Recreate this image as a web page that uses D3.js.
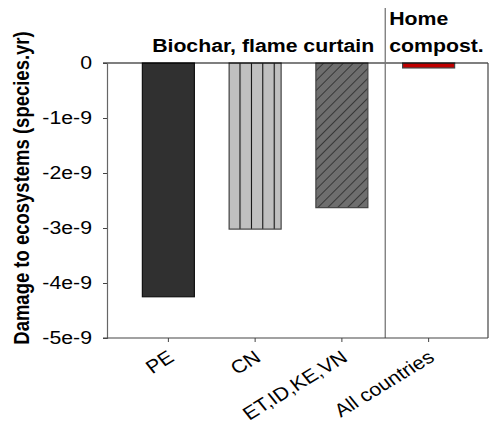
<!DOCTYPE html>
<html>
<head>
<meta charset="utf-8">
<script src="https://cdn.jsdelivr.net/npm/d3@7"></script>
<style>
  body { margin: 0; background: #fff; }
  text { font-family: Arial, "Liberation Sans", Helvetica, sans-serif; }
</style>
</head>
<body>
<div id="chart"></div>
<script>
// data
const categories = ['PE', 'CN', 'ET,ID,KE,VN', 'All countries'];
const damage = [-4.25e-9, -3.02e-9, -2.63e-9, -0.09e-9];
const yTicks = [0, -1e-9, -2e-9, -3e-9, -4e-9, -5e-9];
const yTickLabels = ['0', '-1e-9', '-2e-9', '-3e-9', '-4e-9', '-5e-9'];

const W = 490, H = 432;
const plotL = 107, plotR = 488, plotT = 63, plotB = 338;
// the original figure is a bit wider than tall, text is stretched horizontally
const fs = 18.5, sx = 1.15;

let svg = d3.select('#chart').append('svg')
    .attr('width', W).attr('height', H);

//====[ patterns ]====//
let defs = svg.append('defs');
let pv = defs.append('pattern').attr('id', 'vlines')
    .attr('patternUnits', 'userSpaceOnUse')
    .attr('width', 11.4).attr('height', 10).attr('x', 240 - 0.5);
pv.append('rect').attr('width', 11.4).attr('height', 10).attr('fill', '#c0c0c0');
pv.append('line').attr('x1', 0.5).attr('x2', 0.5).attr('y1', 0).attr('y2', 10)
    .attr('stroke', '#000').attr('stroke-width', 1);

let pd = defs.append('pattern').attr('id', 'diag')
    .attr('patternUnits', 'userSpaceOnUse')
    .attr('width', 7).attr('height', 7)
    .attr('patternTransform', 'rotate(45)');
pd.append('rect').attr('width', 7).attr('height', 7).attr('fill', '#6e6e6e');
pd.append('line').attr('x1', 0).attr('x2', 0).attr('y1', 0).attr('y2', 7)
    .attr('stroke', '#000').attr('stroke-width', 1);

const fills = ['#303030', 'url(#vlines)', 'url(#diag)', '#c00000'];

//====[ scales ]====//
let x = d3.scaleBand().domain(categories)
    .range([125, 472]).paddingInner(0.4).paddingOuter(0.2);
let y = d3.scaleLinear().domain([-5e-9, 0]).range([plotB, plotT]);

//====[ bars ]====//
svg.selectAll('rect.bar')
    .data(damage)
    .enter()
    .append('rect')
    .classed('bar', true)
    .attr('x', (d, i) => x(categories[i]) + (x.bandwidth() - 52) / 2)
    .attr('width', 52)
    .attr('y', y(0))
    .attr('height', d => y(d) - y(0))
    .attr('fill', (d, i) => fills[i])
    .attr('stroke', (d, i) => i === 0 ? '#111' : '#444')
    .attr('stroke-width', 1.2);

//====[ frame ]====//
svg.append('line').attr('x1', plotL - 4).attr('x2', plotR).attr('y1', plotT).attr('y2', plotT)
    .attr('stroke', '#000').attr('stroke-width', 1.2);
svg.append('line').attr('x1', plotR).attr('x2', plotR).attr('y1', plotT).attr('y2', plotB)
    .attr('stroke', '#444').attr('stroke-width', 1.2);

// separator between groups
let sepX = (x('ET,ID,KE,VN') + x('All countries') + x.bandwidth()) / 2;
svg.append('line').attr('x1', sepX).attr('x2', sepX).attr('y1', 8).attr('y2', plotB)
    .attr('stroke', '#777').attr('stroke-width', 1.3);

//====[ axes ]====//
let yAxis = svg.append('g')
    .attr('transform', 'translate(' + plotL + ',0)')
    .call(d3.axisLeft(y).tickValues(yTicks).tickSize(4).tickPadding(11)
        .tickFormat((d, i) => yTickLabels[i]));
yAxis.select('.domain').attr('stroke', '#666').attr('stroke-width', 1.2);
yAxis.selectAll('.tick line').attr('stroke', '#444');
yAxis.selectAll('text')
    .attr('font-size', fs).attr('fill', '#000')
    .attr('x', 0)
    .attr('transform', 'translate(-15,0) scale(' + sx + ',1)');

let xAxis = svg.append('g')
    .attr('transform', 'translate(0,' + plotB + ')')
    .call(d3.axisBottom(x).tickSize(4).tickSizeOuter(0));
xAxis.select('.domain').attr('d', 'M' + (plotL - 4) + ',0H' + plotR)
    .attr('stroke', '#444').attr('stroke-width', 1.2);
xAxis.selectAll('.tick line').attr('stroke', '#444');
xAxis.selectAll('text')
    .attr('font-size', fs).attr('fill', '#000')
    .attr('text-anchor', 'end')
    .attr('x', 0).attr('y', 0).attr('dy', 0)
    .attr('transform', 'translate(7,22) scale(' + sx + ',1) rotate(-35)');

//====[ titles ]====//
svg.append('text')
    .attr('transform', 'translate(29,' + 188 + ') scale(' + sx + ',1) rotate(-90)')
    .attr('text-anchor', 'middle').attr('font-size', fs).attr('font-weight', 'bold')
    .text('Damage to ecosystems (species.yr)');

svg.append('text')
    .attr('transform', 'translate(' + (sepX - 11) + ',52) scale(' + sx + ',1)')
    .attr('text-anchor', 'end').attr('font-size', fs).attr('font-weight', 'bold')
    .text('Biochar, flame curtain');
svg.append('text')
    .attr('transform', 'translate(' + (sepX + 4) + ',25) scale(' + sx + ',1)')
    .attr('font-size', fs).attr('font-weight', 'bold').text('Home');
svg.append('text')
    .attr('transform', 'translate(' + (sepX + 4) + ',52) scale(' + sx + ',1)')
    .attr('font-size', fs).attr('font-weight', 'bold').text('compost.');
</script>
</body>
</html>
